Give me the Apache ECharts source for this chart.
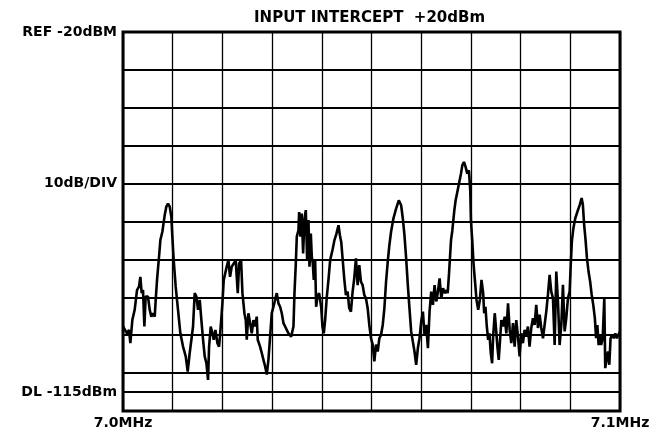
<!DOCTYPE html>
<html>
<head>
<meta charset="utf-8">
<script src="https://cdn.jsdelivr.net/npm/echarts@6/dist/echarts.min.js"></script>
<style>
	html,body{margin:0;padding:0;background:#fff;}
	#spectrum{width:667px;height:430px;}
</style>
</head>
<body>
<div id="spectrum"></div>
<script>
	// offset from 7.0MHz in kHz, span is 100kHz
	var freqKHz = [
		0, 0.34, 0.81, 1.21, 1.48, 1.88, 2.35, 2.82, 3.22, 3.49, 3.76, 4.03, 4.30, 4.56, 5.03, 5.37, 5.70, 6.04, 6.38, 6.58,
		6.85, 7.25, 7.52, 7.92, 8.39, 8.72, 9.06, 9.40, 9.73, 9.93, 10.20, 10.60, 11.07, 11.54, 12.08, 12.62, 13.02, 13.42, 13.76, 14.09,
		14.43, 14.77, 15.10, 15.44, 15.77, 16.11, 16.44, 16.78, 17.11, 17.32, 17.65, 17.99, 18.26, 18.59, 18.99, 19.33, 19.66, 20.00, 20.27, 20.54,
		20.87, 21.21, 21.54, 21.88, 22.28, 22.68, 23.09, 23.36, 23.76, 24.03, 24.43, 24.70, 24.90, 25.23, 25.57, 25.91, 26.24, 26.58, 26.91, 27.11,
		27.58, 27.92, 28.26, 28.59, 28.93, 29.26, 29.60, 29.93, 30.27, 30.60, 30.94, 31.28, 31.61, 31.95, 32.28, 32.62, 33.29, 33.83, 34.30, 34.50,
		34.77, 34.97, 35.30, 35.44, 35.70, 35.97, 36.24, 36.51, 36.78, 37.05, 37.32, 37.52, 37.79, 37.99, 38.19, 38.39, 38.66, 38.86, 39.13, 39.46,
		39.87, 40.13, 40.40, 40.67, 41.01, 41.34, 41.68, 42.15, 42.55, 42.95, 43.36, 43.64, 43.91, 44.18, 44.51, 44.85, 45.19, 45.52, 45.86, 46.20,
		46.53, 46.87, 47.21, 47.54, 47.88, 48.22, 48.55, 48.89, 49.23, 49.56, 49.90, 50.24, 50.57, 50.91, 51.25, 51.58, 51.92, 52.26, 52.59, 52.93,
		53.27, 53.60, 53.94, 54.41, 54.95, 55.49, 55.96, 56.30, 56.63, 56.97, 57.31, 57.64, 57.98, 58.32, 58.65, 58.99, 59.33, 59.66, 60.00, 60.34,
		60.67, 61.01, 61.35, 61.68, 62.02, 62.36, 62.69, 63.03, 63.37, 63.70, 64.04, 64.38, 64.80, 65.13, 65.33, 65.60, 65.80, 66.00, 66.27, 66.67,
		66.93, 67.33, 67.67, 68.00, 68.27, 68.60, 68.93, 69.27, 69.60, 69.87, 70.00, 70.27, 70.53, 70.80, 71.13, 71.47, 71.80, 72.13, 72.47, 72.67,
		72.93, 73.20, 73.47, 73.73, 74.00, 74.27, 74.47, 74.80, 75.13, 75.33, 75.60, 75.87, 76.13, 76.47, 76.80, 77.13, 77.47, 77.80, 78.13, 78.47,
		78.80, 79.13, 79.47, 79.80, 80.13, 80.47, 80.80, 81.13, 81.47, 81.80, 82.15, 82.48, 82.82, 83.15, 83.49, 83.83, 84.16, 84.50, 84.83, 85.17,
		85.50, 85.84, 86.17, 86.51, 86.85, 87.18, 87.52, 87.85, 88.19, 88.52, 88.86, 89.19, 89.53, 89.87, 90.06, 90.32, 90.63, 91.01, 91.46, 91.90,
		92.28, 92.53, 92.78, 93.04, 93.35, 93.67, 93.99, 94.30, 94.62, 94.94, 95.19, 95.44, 95.70, 95.95, 96.20, 96.52, 96.84, 97.03, 97.34, 97.59,
		97.85, 98.10, 98.42, 98.73, 99.05, 99.37, 99.68, 100.0
	];
	// measured level, dBm
	var levelDbm = [
		-97.7, -97.3, -99.5, -98.6, -102.1, -96.0, -93.3, -88.1, -87.2, -84.6, -88.9, -88.1, -97.7, -89.8, -89.8, -93.3, -95.1, -94.2, -95.1, -90.7,
		-85.4, -79.3, -74.9, -72.7, -68.3, -66.1, -65.3, -66.1, -68.8, -74.0, -80.2, -87.2, -93.3, -99.5, -103.0, -105.6, -109.6, -104.7, -101.2, -97.7,
		-88.9, -89.8, -93.3, -90.7, -96.0, -101.2, -105.6, -107.4, -111.8, -103.0, -97.7, -99.5, -101.2, -98.6, -102.1, -103.0, -97.7, -91.6, -85.4, -85.4,
		-81.9, -80.2, -84.6, -81.9, -81.1, -80.2, -88.9, -81.1, -80.2, -88.9, -94.2, -96.0, -101.2, -94.2, -96.8, -99.5, -96.0, -97.7, -95.1, -101.2,
		-103.0, -104.7, -106.5, -108.2, -110.4, -106.5, -100.4, -94.2, -92.5, -90.7, -88.9, -91.6, -92.5, -94.2, -96.8, -97.7, -99.5, -100.4, -97.7, -88.9,
		-81.1, -74.0, -72.3, -67.5, -74.0, -67.9, -78.4, -69.6, -67.0, -80.2, -69.6, -81.9, -73.2, -79.3, -81.1, -85.4, -80.2, -92.5, -89.8, -88.9,
		-92.5, -97.7, -99.5, -96.0, -89.8, -85.4, -80.2, -77.5, -74.9, -73.2, -71.0, -73.6, -75.4, -79.7, -85.0, -89.4, -88.5, -92.9, -93.8, -88.5,
		-85.0, -79.7, -86.8, -81.5, -85.9, -86.8, -89.4, -90.3, -92.9, -97.3, -100.8, -102.5, -106.9, -102.5, -104.3, -100.8, -99.9, -97.3, -92.9, -85.9,
		-80.6, -76.2, -72.7, -69.2, -66.6, -64.4, -65.7, -69.2, -73.6, -79.7, -86.8, -92.9, -99.0, -101.7, -104.3, -107.8, -103.4, -100.8, -96.4, -93.8,
		-99.9, -97.3, -103.4, -93.8, -88.5, -92.0, -86.8, -91.1, -88.5, -85.0, -90.3, -87.6, -88.9, -88.1, -88.9, -83.7, -79.3, -74.9, -72.3, -67.0,
		-64.4, -61.8, -59.6, -57.4, -55.2, -54.3, -55.6, -57.4, -56.5, -61.8, -69.6, -74.9, -81.1, -85.4, -90.7, -93.3, -90.7, -85.4, -88.9, -94.2,
		-92.5, -97.7, -101.2, -99.5, -104.7, -107.4, -100.4, -94.2, -99.5, -103.0, -106.5, -101.2, -96.0, -97.7, -95.1, -99.5, -91.6, -98.6, -102.1, -96.8,
		-103.0, -96.0, -100.4, -105.6, -99.5, -102.1, -98.6, -100.4, -97.7, -103.0, -98.1, -95.5, -97.3, -92.0, -98.1, -94.6, -98.1, -100.8, -97.3, -93.7,
		-89.3, -84.1, -88.5, -90.2, -102.6, -83.2, -91.1, -102.6, -97.3, -86.7, -99.0, -95.5, -90.2, -88.5, -82.3, -75.2, -71.7, -69.1, -67.3, -65.6,
		-63.8, -65.6, -70.8, -74.4, -79.6, -83.2, -85.8, -89.3, -92.0, -95.5, -100.8, -97.3, -102.6, -99.9, -102.6, -100.8, -90.2, -108.7, -106.1, -104.3,
		-107.8, -100.8, -99.9, -100.8, -99.5, -100.8, -99.9, -99.0
	];
	// text shown at the edges of the screen
	var yTickLabels = {"-20":"REF -20dBM","-60":"10dB/DIV"};
	var xTickLabels = {"0":"7.0MHz","100":"7.1MHz"};
	var displayLine = -115;
	var displayLineLabel = "DL -115dBm";
	var titleText = "INPUT INTERCEPT  +20dBm";

	var font = "'DejaVu Sans', 'Liberation Sans', sans-serif";
	var myChart = echarts.init(document.getElementById("spectrum"));
	var traceData = [];
	freqKHz.forEach(function(f, i){
		traceData.push([f, levelDbm[i]]);
	});

	var option = {
		animation:false,
		backgroundColor:"#fff",
		title:{
			text:titleText,
			left:254,
			top:11,
			padding:0,
			textStyle:{
				color:"#000",
				fontFamily:font,
				fontWeight:"bold",
				fontSize:15
			}
		},
		grid:{
			left:123,
			right:47,
			top:32,
			bottom:18,
			show:true,
			borderColor:"#000",
			borderWidth:3,
			backgroundColor:"transparent"
		},
		xAxis:{
			type:"value",
			min:0,
			max:100,
			interval:10,
			axisLine:{show:false},
			axisTick:{show:false},
			splitLine:{
				lineStyle:{color:"#000",width:1.3}
			},
			axisLabel:{
				showMinLabel:true,
				showMaxLabel:true,
				margin:5,
				color:"#000",
				fontFamily:font,
				fontWeight:"bold",
				fontSize:14,
				formatter:function(v){
					return xTickLabels[String(v)] || "";
				}
			}
		},
		yAxis:{
			type:"value",
			min:-120,
			max:-20,
			interval:10,
			axisLine:{show:false},
			axisTick:{show:false},
			splitLine:{
				lineStyle:{color:"#000",width:2}
			},
			axisLabel:{
				showMinLabel:true,
				showMaxLabel:true,
				margin:6,
				color:"#000",
				fontFamily:font,
				fontWeight:"bold",
				fontSize:14,
				formatter:function(v){
					return yTickLabels[String(v)] || "";
				}
			}
		},
		series:[{
			type:"line",
			data:traceData,
			symbol:"none",
			lineStyle:{color:"#000",width:2.6},
			markLine:{
				silent:true,
				symbol:["none","none"],
				lineStyle:{color:"#000",width:2,type:"solid"},
				label:{
					position:"start",
					distance:6,
					padding:[0,0,7,0],
					formatter:displayLineLabel,
					color:"#000",
					fontFamily:font,
					fontWeight:"bold",
					fontSize:14
				},
				data:[{yAxis:displayLine}]
			}
		}]
	};
	myChart.setOption(option);
</script>
</body>
</html>
